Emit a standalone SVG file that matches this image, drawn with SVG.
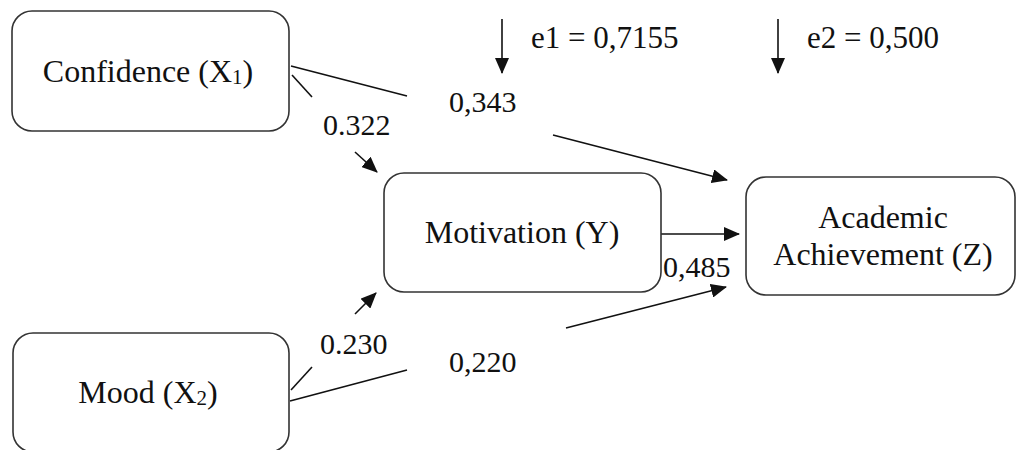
<svg xmlns="http://www.w3.org/2000/svg" width="1017" height="450" viewBox="0 0 1017 450">
  <style>
    .box { fill: #ffffff; stroke: #333333; stroke-width: 1.6; }
    .lbl { font-family: "Liberation Serif", "Times New Roman", serif; font-size: 30px; fill: #111111; }
    .node { font-size: 32px; }
    .err { font-size: 31px; }
    .mid { text-anchor: middle; }
    .sub { font-size: 21px; }
    .ln { fill: none; stroke: #111111; stroke-width: 1.6; }
    .arr { fill: none; stroke: #111111; stroke-width: 1.6; marker-end: url(#ah); }
  </style>
  <defs>
    <marker id="ah" markerUnits="userSpaceOnUse" markerWidth="16" markerHeight="14" refX="15" refY="7" orient="auto">
      <path d="M0,0 L16,7 L0,14 Z" fill="#111111"/>
    </marker>
  </defs>
  <rect width="1017" height="450" fill="#ffffff"/>

  <g id="connectors">
    <!-- Confidence -> Achievement (0,343) -->
    <line class="ln" x1="291" y1="66" x2="407" y2="96"/>
    <line class="arr" x1="553" y1="135" x2="727" y2="180"/>
    <!-- Confidence -> Motivation (0.322) -->
    <line class="ln" x1="292" y1="75" x2="312" y2="97"/>
    <line class="arr" x1="355" y1="152" x2="377" y2="172"/>
    <!-- Mood -> Motivation (0.230) -->
    <line class="ln" x1="291" y1="390" x2="312" y2="367"/>
    <line class="arr" x1="355" y1="314" x2="376" y2="293"/>
    <!-- Mood -> Achievement (0,220) -->
    <line class="ln" x1="290" y1="401" x2="407" y2="370"/>
    <line class="arr" x1="566" y1="328" x2="726" y2="287"/>
    <!-- Motivation -> Achievement (0,485) -->
    <line class="arr" x1="661" y1="234" x2="739" y2="234"/>
    <!-- error terms -->
    <line class="arr" x1="502" y1="19" x2="502" y2="73"/>
    <line class="arr" x1="778" y1="19" x2="778" y2="73"/>

    <text class="lbl" x="323" y="135">0.322</text>
    <text class="lbl" x="449" y="112">0,343</text>
    <text class="lbl" x="663" y="277">0,485</text>
    <text class="lbl" x="320" y="354">0.230</text>
    <text class="lbl" x="449" y="372">0,220</text>
    <text class="lbl err" x="531" y="48">e1 = 0,7155</text>
    <text class="lbl err" x="807" y="48">e2 = 0,500</text>
  </g>

  <g id="node-confidence">
    <rect class="box" x="12" y="11" width="277" height="120" rx="20" ry="20"/>
    <text class="lbl node mid" x="148" y="82">Confidence (X<tspan class="sub" dy="2">1</tspan><tspan dy="-2">)</tspan></text>
  </g>

  <g id="node-mood">
    <rect class="box" x="13" y="333" width="276" height="119" rx="20" ry="20"/>
    <text class="lbl node mid" x="148" y="403">Mood (X<tspan class="sub" dy="2">2</tspan><tspan dy="-2">)</tspan></text>
  </g>

  <g id="node-motivation">
    <rect class="box" x="384" y="173" width="277" height="119" rx="20" ry="20"/>
    <text class="lbl node mid" x="522" y="243">Motivation (Y)</text>
  </g>

  <g id="node-achievement">
    <rect class="box" x="746" y="177" width="269" height="118" rx="20" ry="20"/>
    <text class="lbl node mid" x="883" y="228">Academic</text>
    <text class="lbl node mid" x="883" y="265">Achievement (Z)</text>
  </g>
</svg>
